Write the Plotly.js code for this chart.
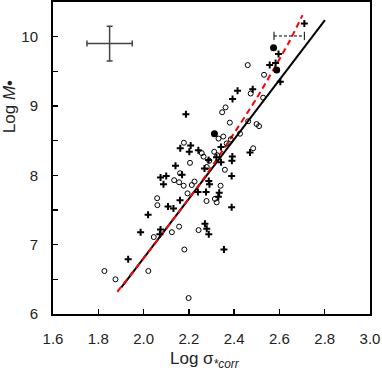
<!DOCTYPE html>
<html>
<head>
<meta charset="utf-8">
<script src="https://cdn.plot.ly/plotly-3.0.1.min.js"></script>
<style>
  body { margin: 0; background: #fff; }
  #chart { width: 382px; height: 372px; }
</style>
</head>
<body>
<div id="chart"></div>
<script>
// Crosses
const plusX = [1.932, 1.987, 2.020, 2.075, 2.072, 2.108, 2.132, 2.161, 2.141, 2.170, 2.075, 2.100, 2.088,
  2.269, 2.240, 2.276, 2.288, 2.291, 2.187, 2.162, 2.208, 2.202, 2.242, 2.322, 2.287, 2.342, 2.342,
  2.392, 2.390, 2.389, 2.470, 2.334, 2.330, 2.389, 2.271, 2.279, 2.288, 2.355, 2.415, 2.393, 2.482,
  2.557, 2.583, 2.596, 2.604, 2.710];
const plusY = [6.79, 7.18, 7.43, 7.22, 7.15, 7.55, 7.52, 7.64, 8.14, 8.01, 7.97, 7.99, 7.87,
  8.10, 7.76, 7.76, 7.92, 7.87, 8.88, 8.39, 8.43, 8.34, 8.36, 8.26, 8.22, 8.41, 8.19,
  8.27, 8.21, 7.99, 8.33, 7.75, 7.69, 7.54, 7.30, 7.23, 7.15, 6.93, 9.22, 9.10, 9.24,
  9.59, 9.62, 9.75, 9.35, 10.19];

// Open circles
const openX = [1.827, 1.876, 2.021, 2.045, 2.061, 2.060, 2.125, 2.157, 2.180, 2.199, 2.243, 2.278,
  2.315, 2.323, 2.340, 2.359, 2.205, 2.161, 2.135, 2.157, 2.177, 2.213, 2.225, 2.194, 2.178,
  2.257, 2.265, 2.312, 2.325, 2.290, 2.279, 2.331, 2.352, 2.367, 2.385, 2.426, 2.484, 2.362,
  2.347, 2.381, 2.462, 2.499, 2.510, 2.473, 2.528, 2.532, 2.460];
const openY = [6.62, 6.50, 6.62, 7.11, 7.57, 7.67, 7.18, 7.26, 6.93, 6.23, 7.21, 7.63,
  7.66, 7.61, 7.85, 8.08, 8.18, 8.03, 7.93, 7.90, 7.85, 7.86, 7.91, 7.74, 8.47,
  8.32, 8.27, 8.34, 8.29, 8.21, 8.12, 8.53, 8.56, 8.46, 8.52, 8.60, 8.39, 8.98,
  8.91, 8.76, 8.78, 8.74, 8.71, 9.18, 9.12, 9.45, 9.59];

// Filled circles
const filledX = [2.313, 2.574, 2.588];
const filledY = [8.60, 9.84, 9.52];

// Fit lines
const blackLineX = [1.902, 2.801];
const blackLineY = [6.385, 10.24];
const redLineX = [1.884, 2.072, 2.271, 2.374, 2.499, 2.639, 2.702];
const redLineY = [6.32, 7.11, 7.98, 8.48, 9.11, 9.90, 10.31];

// Typical error bar (top left) and dashed range (top right)
const errX = [1.850];
const errY = [9.90];
const errXSize = [0.10];
const errYSize = [0.25];
const rangeX = [2.576, 2.710];
const rangeY = [10.01, 10.01];

const xTicks = [1.6, 1.8, 2.0, 2.2, 2.4, 2.6, 2.8, 3.0];
const yTicks = [6, 7, 8, 9, 10];

const font = 'Arial, "Liberation Sans", sans-serif';

const traces = [
  {
    x: blackLineX, y: blackLineY, type: 'scatter', mode: 'lines',
    line: { color: '#000', width: 2 }, hoverinfo: 'skip'
  },
  {
    x: redLineX, y: redLineY, type: 'scatter', mode: 'lines',
    line: { color: '#ff0000', width: 2, dash: '6px,4px', shape: 'spline', smoothing: 0.6 }, hoverinfo: 'skip'
  },
  {
    x: openX, y: openY, type: 'scatter', mode: 'markers',
    marker: { symbol: 'circle-open', size: 5, color: '#000', line: { width: 1, color: '#000' } }
  },
  {
    x: plusX, y: plusY, type: 'scatter', mode: 'markers',
    marker: { symbol: 'cross-thin-open', size: 5, color: '#000', line: { width: 2, color: '#000' } }
  },
  {
    x: filledX, y: filledY, type: 'scatter', mode: 'markers',
    marker: { symbol: 'circle', size: 7, color: '#000' }
  },
  {
    x: errX, y: errY, type: 'scatter', mode: 'markers',
    marker: { size: 1, color: 'rgba(0,0,0,0)' },
    error_x: { type: 'data', array: errXSize, visible: true, color: '#444', thickness: 1.5, width: 3 },
    error_y: { type: 'data', array: errYSize, visible: true, color: '#444', thickness: 1.5, width: 3 }
  },
  {
    x: rangeX, y: rangeY, type: 'scatter', mode: 'lines+markers',
    line: { color: '#000', width: 1, dash: '3px,2px' },
    marker: { symbol: 'line-ns-open', size: 6, line: { width: 1, color: '#000' } }
  }
];

const layout = {
  width: 382,
  height: 372,
  showlegend: false,
  paper_bgcolor: '#fff',
  plot_bgcolor: '#fff',
  font: { family: font, size: 15, color: '#222' },
  margin: { l: 53, r: 12, t: 2, b: 58 },
  xaxis: {
    range: [1.6, 3.0],
    tickvals: xTicks,
    ticktext: xTicks.map(v => v.toFixed(1)),
    ticks: 'inside', ticklen: 5, tickwidth: 1.5, tickcolor: '#000',
    ticklabelstandoff: 10,
    showline: true, linecolor: '#000', linewidth: 2, mirror: true,
    showgrid: false, zeroline: false
  },
  yaxis: {
    range: [6, 10.5],
    tickvals: yTicks,
    ticks: 'inside', ticklen: 5, tickwidth: 1.5, tickcolor: '#000',
    ticklabelstandoff: 10,
    minor: { dtick: 0.5, ticks: 'inside', ticklen: 5, tickwidth: 1.5, tickcolor: '#000' },
    showline: true, linecolor: '#000', linewidth: 2, mirror: true,
    showgrid: false, zeroline: false
  },
  annotations: [
    {
      xref: 'paper', yref: 'paper', x: -0.139, y: 0.666,
      xanchor: 'center', yanchor: 'middle', textangle: -90, showarrow: false,
      text: 'Log <i>M</i>•', font: { family: font, size: 17, color: '#222' }
    },
    {
      xref: 'paper', yref: 'paper', x: 0.479, y: -0.147,
      xanchor: 'center', yanchor: 'middle', showarrow: false,
      text: 'Log σ<sub><i>*corr</i></sub>', font: { family: font, size: 17, color: '#222' }
    }
  ]
};

Plotly.newPlot('chart', traces, layout, { displayModeBar: false, staticPlot: true });
</script>
</body>
</html>
